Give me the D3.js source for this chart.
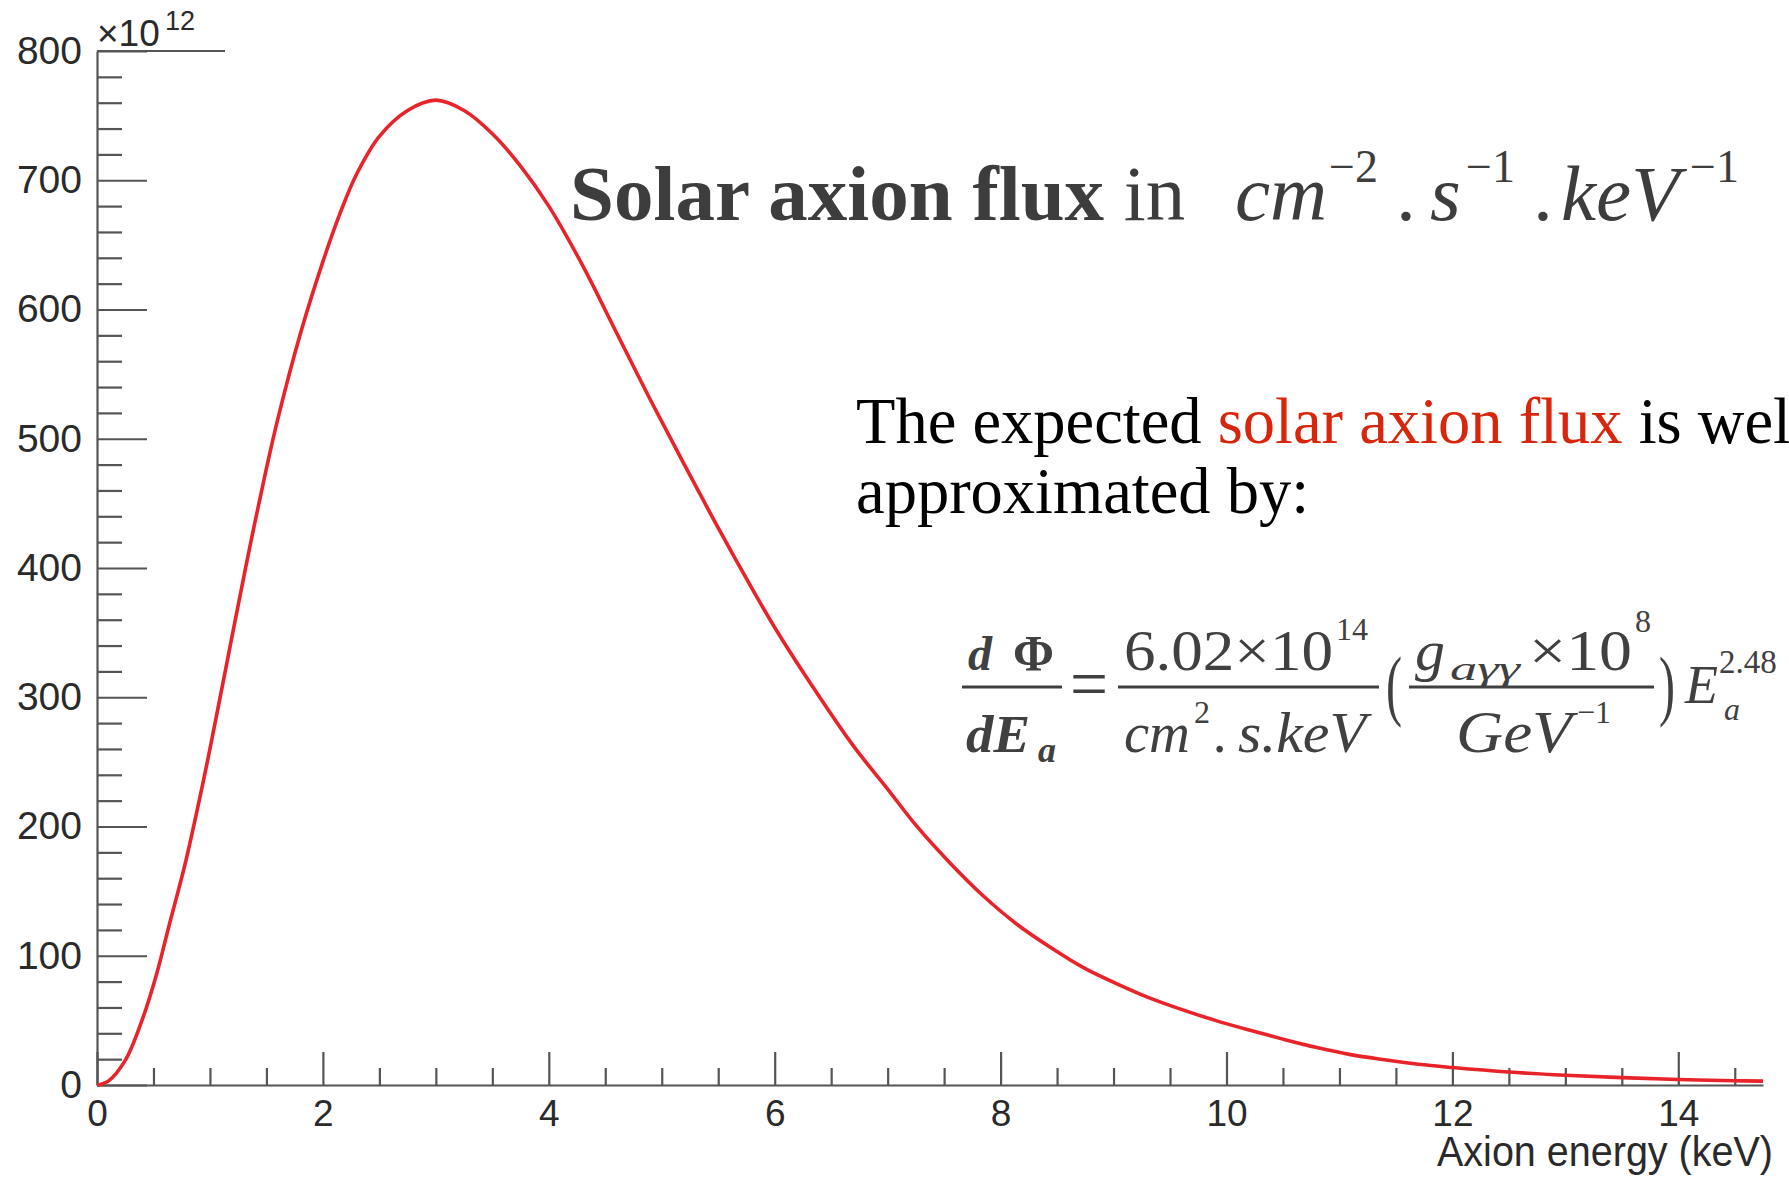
<!DOCTYPE html>
<html>
<head>
<meta charset="utf-8">
<script src="https://cdn.jsdelivr.net/npm/d3@7"></script>
<style>
  html, body { margin: 0; padding: 0; background: #fff; overflow: hidden; }
  svg { display: block; }
</style>
</head>
<body>
<svg id="chart" width="1789" height="1177"></svg>
<script>
// ---- data ----
const energy = [0, 0.1, 0.25, 0.39, 0.525, 0.64, 0.78, 0.9, 1.0, 1.2, 1.35, 1.5, 1.6, 1.8, 2.0, 2.15, 2.3, 2.5, 2.75, 3.0, 3.25, 3.5, 3.75, 4.0, 4.3, 4.6, 4.9, 5.2, 5.5, 5.8, 6.0, 6.3, 6.7, 7.0, 7.25, 7.55, 7.85, 8.15, 8.45, 8.75, 9.05, 9.3, 9.6, 9.9, 10.2, 10.5, 10.8, 11.1, 11.4, 11.7, 12.0, 12.5, 13.0, 13.5, 14.0, 14.5, 14.75];
const flux = [0, 3, 19, 48, 85, 124, 171, 218, 260, 349, 415, 477, 515, 581, 637, 674, 705, 734, 754, 762, 754, 736, 711, 680, 634, 582, 530, 480, 431, 384, 354, 313, 262, 229, 201, 172, 146, 124, 106, 90, 77.5, 68, 58.5, 50, 42.5, 35.5, 29, 23.5, 19.5, 16, 13.5, 10, 7.5, 5.7, 4.3, 3.3, 3];
const xMajorTicks = [0, 2, 4, 6, 8, 10, 12, 14];
const yMajorTicks = [0, 100, 200, 300, 400, 500, 600, 700, 800];
const xDomain = [0, 14.75];
const yDomain = [0, 800];
const yExponentBase = "\u00d710";
const yExponent = "12";
const xTitle = "Axion energy (keV)";

// ---- layout ----
const svg = d3.select("#chart");
const x = d3.scaleLinear().domain(xDomain).range([97, 1763]);
const y = d3.scaleLinear().domain(yDomain).range([1085, 51]);
const axisColor = "#555";
const labelColor = "#2a2a2a";
const sans = "'Liberation Sans', Arial, Helvetica, sans-serif";
const serif = "'Liberation Serif', 'Times New Roman', Times, serif";

const xMinor = d3.range(0, 14.75 + 1e-9, 0.5).filter(v => !xMajorTicks.includes(v));
const yMinor = d3.range(0, 800 + 1e-9, 20).filter(v => !yMajorTicks.includes(v));

function styleAxis(g, fs) {
  g.selectAll("path.domain").attr("stroke", axisColor).attr("stroke-width", 2.2);
  g.selectAll(".tick line").attr("stroke", axisColor).attr("stroke-width", 2.2);
  g.selectAll(".tick text").attr("fill", labelColor).attr("font-family", sans).attr("font-size", fs || 37);
}

// Y axis
const gy = svg.append("g").attr("transform", `translate(${x(0)},0)`)
  .call(d3.axisLeft(y).tickValues(yMajorTicks).tickSizeInner(-50).tickSizeOuter(0).tickPadding(15).tickFormat(d3.format("d")));
styleAxis(gy, 39);
const gyMinor = svg.append("g").attr("transform", `translate(${x(0)},0)`)
  .call(d3.axisLeft(y).tickValues(yMinor).tickSizeInner(-25).tickSizeOuter(0).tickFormat(""));
styleAxis(gyMinor);
gyMinor.select("path.domain").remove();

// X axis
const gx = svg.append("g").attr("transform", `translate(0,${y(0)})`)
  .call(d3.axisBottom(x).tickValues(xMajorTicks).tickSizeInner(-33).tickSizeOuter(0).tickPadding(15).tickFormat(d3.format("d")));
styleAxis(gx, 37);
const gxMinor = svg.append("g").attr("transform", `translate(0,${y(0)})`)
  .call(d3.axisBottom(x).tickValues(xMinor).tickSizeInner(-17).tickSizeOuter(0).tickFormat(""));
styleAxis(gxMinor);
gxMinor.select("path.domain").remove();

// top line at 800 under the exponent
svg.append("line").attr("x1", x(0)).attr("x2", 225).attr("y1", y(800)).attr("y2", y(800))
  .attr("stroke", axisColor).attr("stroke-width", 2.2);

// exponent label
const expT = svg.append("text").attr("x", x(0)).attr("y", 46)
  .attr("font-family", sans).attr("font-size", 37).attr("fill", labelColor);
expT.append("tspan").text(yExponentBase);
expT.append("tspan").attr("x", 165).attr("y", 30).attr("font-size", 27).text(yExponent);

// x title
svg.append("text").attr("x", 1773).attr("y", 1166).attr("text-anchor", "end")
  .attr("font-family", sans).attr("font-size", 43).attr("fill", labelColor)
  .attr("textLength", 336).attr("lengthAdjust", "spacingAndGlyphs")
  .text(xTitle);

// curve
const line = d3.line().x((d, i) => x(energy[i])).y(d => y(d)).curve(d3.curveCatmullRom.alpha(0.5));
svg.append("path").datum(flux).attr("d", line)
  .attr("fill", "none").attr("stroke", "#e8232a").attr("stroke-width", 3.6).attr("stroke-linejoin", "round");

// ---- title ----
const titleColor = "#3d3d3d";
const t1 = svg.append("text").attr("x", 570).attr("y", 220)
  .attr("font-family", serif).attr("font-size", 79).attr("fill", titleColor);
t1.append("tspan").attr("font-weight", "bold").text("Solar axion flux");
t1.append("tspan").text(" in");

function piece(txt, px, py, size, italic, color, len, bold) {
  const t = svg.append("text").attr("x", px).attr("y", py)
    .attr("font-family", serif).attr("font-size", size)
    .attr("font-style", italic ? "italic" : "normal")
    .attr("font-weight", bold ? "bold" : "normal")
    .attr("fill", color || titleColor).text(txt);
  if (len) t.attr("textLength", len).attr("lengthAdjust", "spacingAndGlyphs");
  return t;
}
piece("cm", 1235, 220, 79, true);
piece("\u22122", 1329, 182, 46, false);
piece(".", 1398, 220, 79, true);
piece("s", 1430, 220, 79, true);
piece("\u22121", 1466, 182, 46, false);
piece(".", 1535, 220, 79, true);
piece("keV", 1561, 220, 79, true);
piece("\u22121", 1690, 182, 46, false);

// ---- paragraph ----
const p1 = svg.append("text").attr("x", 856).attr("y", 443)
  .attr("font-family", serif).attr("font-size", 64.5).attr("fill", "#000");
p1.append("tspan").text("The expected ");
p1.append("tspan").attr("fill", "#d8260d").text("solar axion flux");
p1.append("tspan").text(" is well");
svg.append("text").attr("x", 856).attr("y", 513)
  .attr("font-family", serif).attr("font-size", 64.5).attr("fill", "#000")
  .text("approximated by:");

// ---- equation ----
const eq = "#404040";
piece("d", 968, 670, 48, true, eq, null, true);
piece("\u03a6", 1013, 670, 50, false, eq, 41, true);
svg.append("line").attr("x1", 962).attr("x2", 1062).attr("y1", 687).attr("y2", 687).attr("stroke", eq).attr("stroke-width", 3);
piece("dE", 966, 752, 52, true, eq, 64, true);
piece("a", 1038, 762, 36, true, eq, null, true);

piece("=", 1070, 708, 72, false, eq, 38);

piece("6.02\u00d710", 1124, 670, 56, false, eq, 209);
piece("14", 1336, 640, 32, false, eq);
svg.append("line").attr("x1", 1118).attr("x2", 1379).attr("y1", 687).attr("y2", 687).attr("stroke", eq).attr("stroke-width", 3);
piece("cm", 1124, 752, 56, true, eq, 66);
piece("2", 1194, 723, 32, false, eq);
piece(".", 1214, 752, 56, true, eq);
piece("s.keV", 1238, 752, 56, true, eq, 128);

piece("(", 1386, 711, 79, false, eq, 16);
piece("g", 1415, 670, 58, true, eq, 30);
piece("a\u03b3\u03b3", 1450, 680, 34, true, eq, 70);
piece("\u00d710", 1529, 670, 58, false, eq, 103);
piece("8", 1635, 632, 32, false, eq);
svg.append("line").attr("x1", 1409).attr("x2", 1654).attr("y1", 687).attr("y2", 687).attr("stroke", eq).attr("stroke-width", 3);
piece("GeV", 1456, 752, 60, true, eq, 116);
piece("\u22121", 1577, 723, 32, false, eq);
piece(")", 1659, 711, 79, false, eq, 16);

piece("E", 1685, 703, 54, true, eq);
piece("a", 1724, 720, 32, true, eq);
piece("2.48", 1719, 673, 33, false, eq);
</script>
</body>
</html>
